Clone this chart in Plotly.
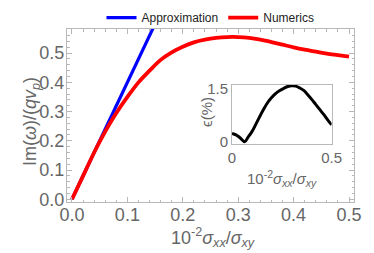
import plotly.graph_objects as go

# Main panel data
approx_x = [0.0, 0.15]
approx_y = [0.0, 0.60]

num_x = [0.00, 0.02, 0.04, 0.05, 0.06, 0.08, 0.10, 0.12, 0.14, 0.16, 0.18, 0.20,
         0.22, 0.24, 0.26, 0.28, 0.30, 0.32, 0.34, 0.36, 0.38, 0.40, 0.42, 0.44,
         0.46, 0.48, 0.50]
num_y = [0.000, 0.080, 0.160, 0.197, 0.232, 0.295, 0.350, 0.400, 0.440, 0.477, 0.503, 0.522,
         0.537, 0.546, 0.552, 0.555, 0.555, 0.552, 0.546, 0.538, 0.529, 0.520, 0.512, 0.505,
         0.498, 0.493, 0.488]

# Inset data (relative error in %)
err_x = [0.00, 0.02, 0.04, 0.064, 0.08, 0.10, 0.12, 0.14, 0.16, 0.18, 0.20, 0.22, 0.24,
         0.26, 0.28, 0.30, 0.32, 0.34, 0.36, 0.38, 0.40, 0.42, 0.44, 0.46, 0.48, 0.50]
err_y = [0.24, 0.20, 0.12, 0.01, 0.13, 0.29, 0.50, 0.72, 0.93, 1.11, 1.25, 1.36, 1.44,
         1.50, 1.55, 1.57, 1.56, 1.51, 1.44, 1.32, 1.19, 1.05, 0.91, 0.77, 0.62, 0.48]

main_xticks = [0.0, 0.1, 0.2, 0.3, 0.4, 0.5]
main_xlabels = ["0.0", "0.1", "0.2", "0.3", "0.4", "0.5"]
main_yticks = [0.0, 0.1, 0.2, 0.3, 0.4, 0.5]
main_ylabels = ["0.0", "0.1", "0.2", "0.3", "0.4", "0.5"]
inset_xticks = [0.0, 0.5]
inset_xlabels = ["0", "0.5"]
inset_yticks = [0.0, 1.5]
inset_ylabels = ["0", "1.5"]

FONT = "Liberation Sans, Arial, sans-serif"
GRAY = "#666666"
FRAME = "#b8b8b8"

fig = go.Figure()
fig.add_trace(go.Scatter(x=approx_x, y=approx_y, mode="lines", name="Approximation",
                         line=dict(color="#0000ff", width=3.2), xaxis="x", yaxis="y"))
fig.add_trace(go.Scatter(x=num_x, y=num_y, mode="lines", name="Numerics",
                         line=dict(color="#ff0000", width=3.8, shape="spline"),
                         xaxis="x", yaxis="y"))
fig.add_trace(go.Scatter(x=err_x, y=err_y, mode="lines", showlegend=False,
                         line=dict(color="black", width=3, shape="spline"),
                         xaxis="x2", yaxis="y2"))

xtitle = "10<sup>-2</sup><i>σ</i><sub><i>xx</i></sub>/<i>σ</i><sub><i>xy</i></sub>"
ytitle = "Im(<i>ω</i>)/(<i>qv</i><sub><i>p</i></sub>)"
inset_ytitle = "ϵ(%)"

fig.update_layout(
    width=374, height=253,
    margin=dict(l=67, r=20, t=29, b=51, autoexpand=False),
    paper_bgcolor="white", plot_bgcolor="white",
    font=dict(family=FONT, color=GRAY),
    showlegend=True,
    legend=dict(orientation="h", x=0.50, xanchor="center", y=1.066, yanchor="middle",
                font=dict(size=12, color="#222222"), bgcolor="rgba(0,0,0,0)",
                itemwidth=30, tracegroupgap=0),
    xaxis=dict(domain=[0, 1], range=[-0.009, 0.509], tickvals=main_xticks,
               ticktext=main_xlabels, ticks="inside", ticklen=5, tickcolor=FRAME,
               showline=True, linecolor=FRAME, linewidth=1, mirror="allticks",
               showgrid=False, zeroline=False, automargin=False,
               ticklabelstandoff=-4,
               tickfont=dict(size=18, color=GRAY),
               minor=dict(dtick=0.02, tick0=0, ticks="inside", ticklen=2.5, tickcolor=FRAME)),
    yaxis=dict(domain=[0, 1], range=[-0.0093, 0.5826], tickvals=main_yticks,
               ticktext=main_ylabels, ticks="inside", ticklen=5, tickcolor=FRAME,
               showline=True, linecolor=FRAME, linewidth=1, mirror="allticks",
               showgrid=False, zeroline=False, automargin=False,
               ticklabelstandoff=-2,
               tickfont=dict(size=18, color=GRAY),
               minor=dict(dtick=0.02, tick0=0, ticks="inside", ticklen=2.5, tickcolor=FRAME)),
    xaxis2=dict(domain=[0.575, 0.922], anchor="y2", range=[0, 0.5],
                tickvals=inset_xticks, ticktext=inset_xlabels, ticks="",
                showline=True, linecolor=FRAME, linewidth=1, mirror=True,
                showgrid=False, zeroline=False,
                tickfont=dict(size=15, color=GRAY)),
    yaxis2=dict(domain=[0.3335, 0.678], anchor="x2", range=[-0.064, 1.6],
                tickvals=inset_yticks, ticktext=inset_ylabels, ticks="",
                showline=True, linecolor=FRAME, linewidth=1, mirror=True,
                showgrid=False, zeroline=False,
                tickfont=dict(size=15, color=GRAY)),
    annotations=[
        dict(text=xtitle, xref="paper", yref="paper", x=0.509, y=-0.208,
             xanchor="center", yanchor="middle", showarrow=False,
             font=dict(size=18, color=GRAY)),
        dict(text=ytitle, xref="paper", yref="paper", x=-0.1254, y=0.462,
             xanchor="center", yanchor="middle", showarrow=False, textangle=-90,
             font=dict(size=18, color=GRAY)),
        dict(text=xtitle, xref="paper", yref="paper", x=0.749, y=0.135,
             xanchor="center", yanchor="middle", showarrow=False,
             font=dict(size=15, color=GRAY)),
        dict(text=inset_ytitle, xref="paper", yref="paper", x=0.484, y=0.520,
             xanchor="center", yanchor="middle", showarrow=False, textangle=-90,
             font=dict(size=15, color=GRAY)),
    ],
)

fig.write_html("out.html", config={"displayModeBar": False},
               post_script="document.body.style.margin='0';")
